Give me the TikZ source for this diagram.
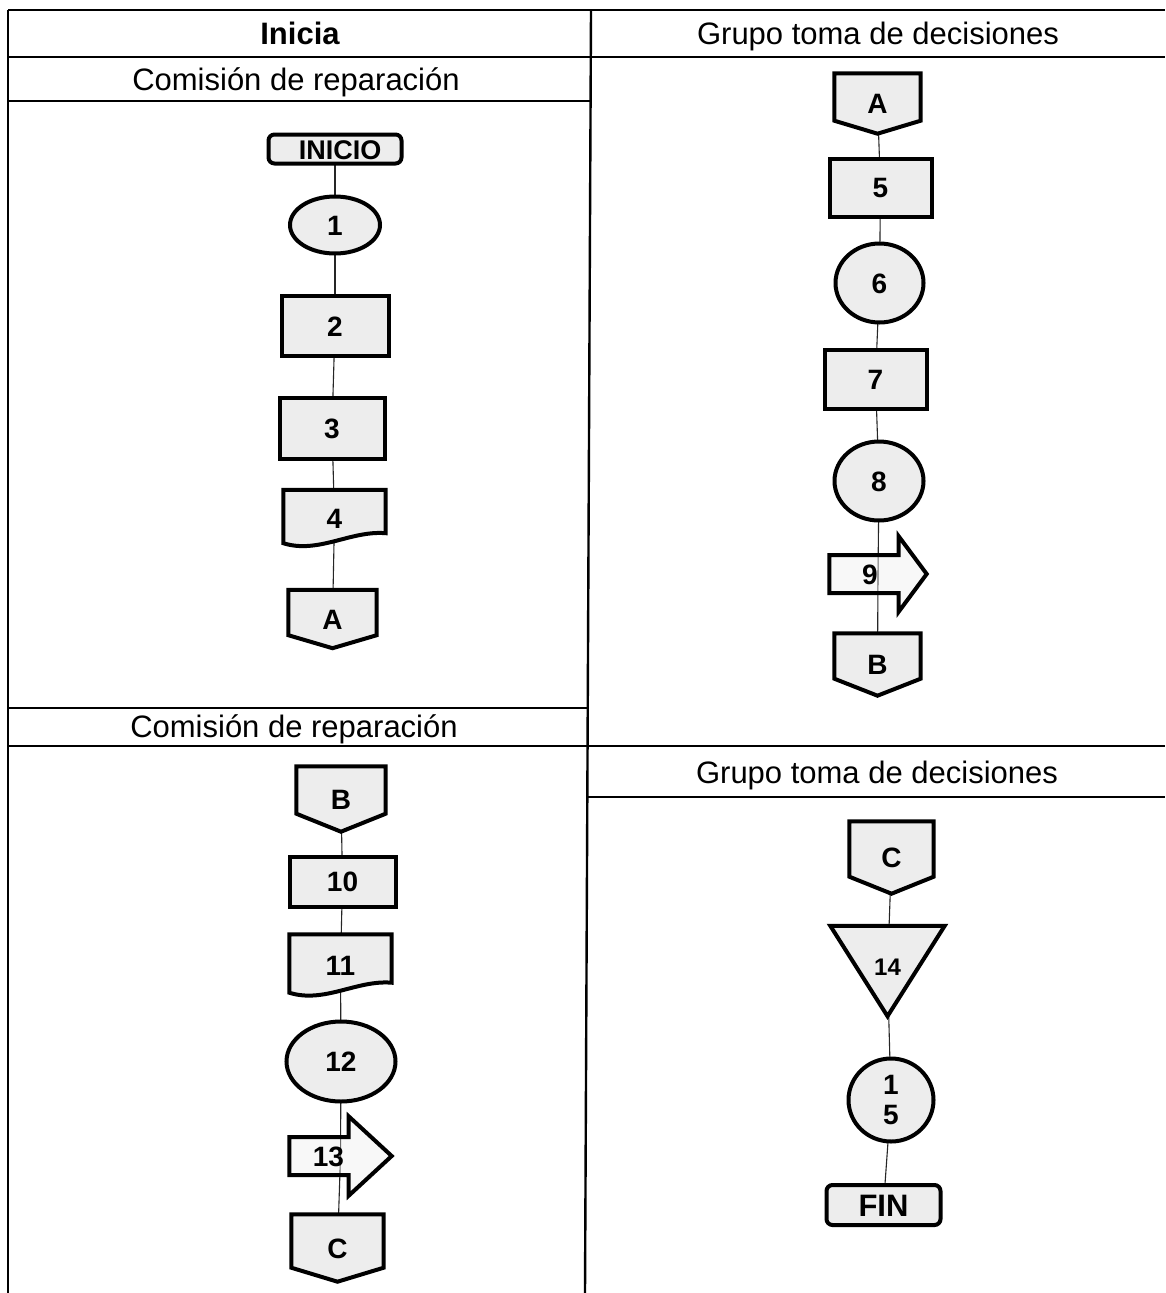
\documentclass[tikz,border=0pt]{standalone}
\usepackage{fontspec}
\setmainfont{Liberation Sans}
\usetikzlibrary{shapes.geometric,calc}
\pgfdeclarelayer{paper}
\pgfdeclarelayer{links}
\pgfdeclarelayer{outlines}
\pgfsetlayers{paper,links,outlines,main}
\tikzset{
  gridline/.style={line width=2.4pt, black},
  hdr/.style={inner sep=0pt, font=\fontsize{31}{36}\selectfont, text height=22pt, text depth=0pt},
  lbl/.style={inner sep=0pt, font=\fontsize{28}{32}\selectfont\bfseries, text height=20pt, text depth=0pt},
  lblml/.style={inner sep=0pt, font=\fontsize{28}{30}\selectfont\bfseries, align=center},
  shp/.style={draw=black, line width=4pt, fill=gray!14, line join=miter},
  arr/.style={shp, fill opacity=0.35},
  link/.style={line width=1.1pt, black!85},
}
\newcommand{\offpath}[2]{%
  \draw[shp] (#1.north west) -- (#1.north east) -- ([yshift=#2]#1.south east)
    -- (#1.south) -- ([yshift=#2]#1.south west) -- cycle;}
\newcommand{\docpath}[1]{%
  \draw[shp] (#1.north west) -- (#1.north east) -- ([yshift=13pt]#1.south east)
    .. controls ([xshift=-35pt,yshift=16pt]#1.south east) and ([xshift=35pt,yshift=-8pt]#1.south west)
    .. ([yshift=3pt]#1.south west) -- cycle;}
\newcommand{\arrowpath}[3]{%
  \draw[arr] ([yshift=#2]#1.west) -- ([xshift=-#3,yshift=#2]#1.east) -- ([xshift=-#3]#1.north east)
    -- (#1.east) -- ([xshift=-#3]#1.south east) -- ([xshift=-#3,yshift=-#2]#1.east)
    -- ([yshift=-#2]#1.west) -- cycle;}
\newcommand{\tripath}[1]{%
  \draw[shp] (#1.north west) -- (#1.north east) -- (#1.south) -- cycle;}
\begin{document}
\begin{tikzpicture}[x=1pt,y=-1pt]
\begin{pgfonlayer}{paper}
  \fill[white] (0,0) rectangle (1165,1293);
\end{pgfonlayer}
\useasboundingbox (0,0) rectangle (1165,1293);

% table grid
\draw[gridline] (8,10) -- (1165,10);
\draw[gridline] (8,10) -- (8,1293);
\draw[gridline] (8,57) -- (1165,57);
\draw[gridline] (8,101) -- (590,101);
\draw[gridline] (591,10) -- (585,1293);
\draw[gridline] (8,708) -- (588,708);
\draw[gridline] (8,746) -- (1165,746);
\draw[gridline] (586,797) -- (1165,797);

% headers
\node[hdr, font=\fontsize{31}{36}\selectfont\bfseries] (hIni) at (300,33) {Inicia};
\node[hdr] (hGr1) at (878,33) {Grupo toma de decisiones};
\node[hdr] (hCo1) at (296,79) {Comisión de reparación};
\node[hdr] (hCo2) at (294,726) {Comisión de reparación};
\node[hdr] (hGr2) at (877,772) {Grupo toma de decisiones};

% ---- upper left column
\node[lbl, shp, rounded corners=6pt, font=\fontsize{27}{32}\selectfont\bfseries, minimum width=133pt, minimum height=29pt] (ini) at (335,149) {\kern10pt INICIO};
\node[lbl, shp, ellipse, minimum width=90pt, minimum height=57pt] (o1) at (335,225) {1};
\node[lbl, shp, minimum width=107pt, minimum height=60pt] (p2) at (335,326) {2};
\node[lbl, shp, minimum width=105pt, minimum height=61pt] (p3) at (332,428) {3};
\node[lbl, minimum width=102pt, minimum height=56pt] (d4) at (334.5,518) {4};
\node[lbl, minimum width=88pt, minimum height=58pt] (cA1) at (332.5,619) {A};

% ---- upper right column
\node[lbl, minimum width=86pt, minimum height=60pt] (cA2) at (877.5,103.5) {A};
\node[lbl, shp, minimum width=102pt, minimum height=58pt] (p5) at (880.5,187.5) {5};
\node[lbl, shp, ellipse, minimum width=88pt, minimum height=79pt] (c6) at (879.5,283) {6};
\node[lbl, shp, minimum width=102pt, minimum height=59pt] (p7) at (875.5,379) {7};
\node[lbl, shp, ellipse, minimum width=89pt, minimum height=79pt] (c8) at (879,481) {8};
\node[lbl, minimum width=97pt, minimum height=75pt] (a9) at (878,574) {\kern-16pt 9};
\node[lbl, minimum width=86pt, minimum height=62pt] (cB1) at (877.5,664.5) {B};

% ---- lower left column
\node[lbl, minimum width=89pt, minimum height=65pt] (cB2) at (341,799) {B};
\node[lbl, shp, minimum width=106pt, minimum height=50pt] (p10) at (342.5,881.5) {10};
\node[lbl, minimum width=102pt, minimum height=61pt] (d11) at (340.5,965) {11};
\node[lbl, shp, ellipse, minimum width=109pt, minimum height=80pt] (o12) at (341,1061.5) {12};
\node[lbl, minimum width=102pt, minimum height=79pt] (a13) at (340.5,1156) {\kern-24pt 13};
\node[lbl, minimum width=92pt, minimum height=67pt] (cC1) at (337.5,1248) {C};

% ---- lower right column
\node[lbl, minimum width=84pt, minimum height=72pt] (cC2) at (891.5,857.5) {C};
\node[lbl, font=\fontsize{24}{28}\selectfont\bfseries, minimum width=114pt, minimum height=90pt] (t14) at (887.5,971) {\raisebox{6pt}{14}};
\node[lblml, shp, ellipse, minimum width=85pt, minimum height=83pt] (c15) at (891,1100) {1\\5};
\node[lbl, shp, rounded corners=6pt, font=\fontsize{31}{34}\selectfont\bfseries, text height=22pt, minimum width=114pt, minimum height=40pt] (fin) at (883.5,1205) {FIN};

% custom outlines
\begin{pgfonlayer}{outlines}
  \docpath{d4}
  \offpath{cA1}{13pt}
  \offpath{cA2}{13pt}
  \arrowpath{a9}{19pt}{28pt}
  \offpath{cB1}{17pt}
  \offpath{cB2}{18pt}
  \docpath{d11}
  \arrowpath{a13}{19pt}{43pt}
  \offpath{cC1}{14pt}
  \offpath{cC2}{17pt}
  \tripath{t14}
\end{pgfonlayer}

% connectors
\begin{pgfonlayer}{links}
  \draw[link] (ini.center) -- (o1.center);
  \draw[link] (o1.center) -- (p2.center);
  \draw[link] (p2.center) -- (p3.center);
  \draw[link] (p3.center) -- (d4.center);
  \draw[link] (d4.center) -- (cA1.center);
  \draw[link] (cA2.center) -- (p5.center);
  \draw[link] (p5.center) -- (c6.center);
  \draw[link] (c6.center) -- (p7.center);
  \draw[link] (p7.center) -- (c8.center);
  \draw[link] (c8.center) -- (a9.center);
  \draw[link] (a9.center) -- (cB1.center);
  \draw[link] (cB2.center) -- (p10.center);
  \draw[link] (p10.center) -- (d11.center);
  \draw[link] (d11.center) -- (o12.center);
  \draw[link] (o12.center) -- (a13.center);
  \draw[link] (a13.center) -- (cC1.center);
  \draw[link] (cC2.center) -- (t14.center);
  \draw[link] (t14.center) -- (c15.center);
  \draw[link] (c15.center) -- (fin.center);
\end{pgfonlayer}
\end{tikzpicture}
\end{document}
